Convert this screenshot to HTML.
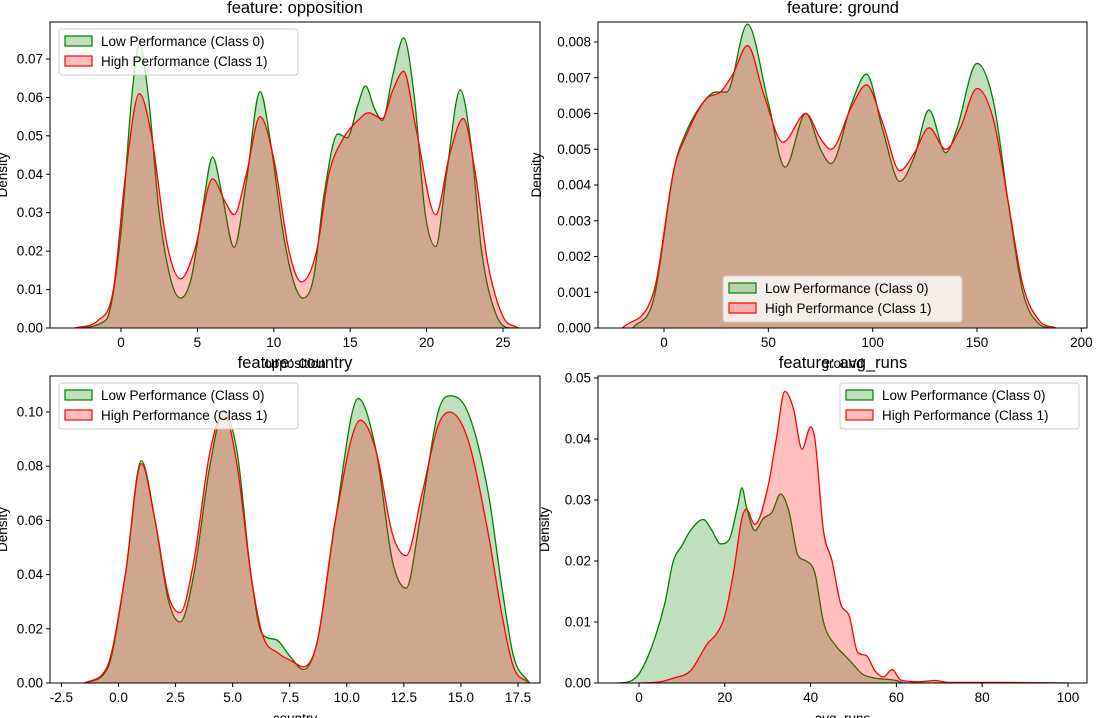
<!DOCTYPE html>
<html><head><meta charset="utf-8"><style>
body{margin:0;background:#fff;}
svg{display:block;font-family:"Liberation Sans","DejaVu Sans",sans-serif;}
</style></head><body>
<svg id="fig" width="1106" height="718" viewBox="0 0 1106 718" xmlns="http://www.w3.org/2000/svg"></svg>
<script>
// ---- data ----
const oppLow=[[-3,0],[-1,0.002],[0,0.025],[0.7,0.06],[1.2,0.074],[1.8,0.06],[2.5,0.03],[3.3,0.012],[3.9,0.0078],[4.6,0.013],[5.3,0.03],[6,0.0445],[6.6,0.035],[7.4,0.021],[8.2,0.038],[9.1,0.0615],[9.8,0.048],[10.6,0.025],[11.3,0.012],[11.9,0.0078],[12.6,0.013],[13.3,0.035],[14.2,0.0505],[14.8,0.0495],[15.5,0.058],[16,0.063],[16.6,0.057],[17.1,0.054],[17.8,0.066],[18.5,0.0755],[19.2,0.06],[19.9,0.03],[20.6,0.0212],[21.3,0.04],[22.2,0.062],[22.9,0.048],[23.6,0.02],[24.5,0.004],[25.5,0],[26,0]];
const oppHigh=[[-3,0],[-1.5,0.002],[-0.5,0.01],[0.3,0.04],[1.2,0.061],[2,0.05],[3,0.022],[3.9,0.0128],[4.8,0.02],[6,0.0388],[6.8,0.033],[7.4,0.0295],[8.2,0.04],[9.1,0.055],[10,0.044],[11,0.02],[11.8,0.012],[12.8,0.02],[13.6,0.04],[14.5,0.049],[15.5,0.054],[16.2,0.056],[17.1,0.0545],[17.8,0.062],[18.5,0.0668],[19.3,0.052],[20.6,0.0295],[21.5,0.045],[22.4,0.0545],[23.2,0.04],[24,0.017],[25,0.003],[26,0]];
const grdLow=[[-15,0],[-5,0.0008],[5,0.0045],[10,0.0054],[20,0.0064],[25,0.0066],[30,0.0066],[40,0.0085],[50,0.0063],[58,0.0045],[68,0.006],[75,0.005],[80,0.0046],[90,0.0063],[97,0.0071],[105,0.0055],[113,0.0041],[120,0.0048],[127,0.0061],[135,0.0049],[140,0.0055],[150,0.0074],[158,0.0063],[165,0.0035],[172,0.001],[180,0.0001],[185,0]];
const grdHigh=[[-20,0],[-5,0.001],[5,0.0045],[10,0.0053],[20,0.0064],[27,0.0066],[33,0.0071],[40,0.0079],[48,0.0065],[57,0.0052],[68,0.006],[75,0.0053],[80,0.005],[90,0.0062],[97,0.0068],[105,0.0057],[113,0.0044],[120,0.0049],[127,0.0056],[135,0.005],[142,0.0056],[150,0.0067],[158,0.0058],[165,0.0035],[172,0.0012],[180,0.0002],[188,0]];
const ctyLow=[[-1.5,0],[-0.5,0.005],[0.3,0.04],[1,0.082],[1.6,0.06],[2.2,0.03],[2.7,0.0225],[3.3,0.04],[4,0.08],[4.6,0.1],[5.2,0.085],[5.8,0.04],[6.3,0.018],[6.9,0.016],[7.5,0.01],[8.1,0.005],[8.7,0.015],[9.5,0.06],[10.5,0.105],[11.3,0.085],[12,0.045],[12.6,0.035],[13.2,0.06],[14,0.1],[14.5,0.106],[15.3,0.1],[16.2,0.07],[16.8,0.035],[17.3,0.01],[18,0]];
const ctyHigh=[[-1.5,0],[-0.5,0.006],[0.3,0.04],[1,0.081],[1.6,0.06],[2.2,0.032],[2.7,0.026],[3.3,0.045],[4,0.085],[4.6,0.1],[5.2,0.08],[5.8,0.04],[6.3,0.018],[7,0.011],[7.6,0.008],[8.1,0.006],[8.7,0.015],[9.5,0.06],[10.6,0.097],[11.3,0.085],[12,0.055],[12.6,0.047],[13.3,0.07],[14,0.095],[14.5,0.1],[15.3,0.09],[16.2,0.055],[16.8,0.025],[17.3,0.006],[18,0]];
const runLow=[[-5,0],[-2,0.0003],[0,0.0015],[3,0.006],[6,0.013],[8,0.02],[10,0.0225],[12,0.025],[15,0.0268],[17,0.025],[19,0.0228],[21,0.0235],[23,0.029],[24,0.032],[25,0.029],[27,0.025],[29,0.027],[31,0.028],[33,0.031],[35,0.028],[37,0.021],[39,0.02],[41,0.018],[43,0.01],[46,0.006],[48,0.0045],[50,0.003],[52,0.0015],[55,0.0008],[58,0.0006],[60,0.0004],[62,0],[100,0]];
const runHigh=[[0,0],[5,0.0002],[8,0.0008],[12,0.002],[16,0.0065],[18,0.008],[20,0.011],[22,0.018],[24,0.027],[25,0.0285],[27,0.026],[30,0.032],[32,0.04],[34,0.0478],[36,0.045],[38,0.0383],[40,0.042],[41,0.04],[43,0.025],[45,0.02],[47,0.013],[49,0.011],[51,0.005],[53,0.0045],[55,0.002],[57,0.001],[59,0.0022],[61,0.0005],[65,0.0002],[69,0.0004],[72,0.0001],[85,0.0001],[100,0]];
const oppXTicks=[0,5,10,15,20,25], oppYTicks=[0,0.01,0.02,0.03,0.04,0.05,0.06,0.07];
const grdXTicks=[0,50,100,150,200], grdYTicks=[0,0.001,0.002,0.003,0.004,0.005,0.006,0.007,0.008];
const ctyXTicks=[-2.5,0,2.5,5,7.5,10,12.5,15,17.5], ctyYTicks=[0,0.02,0.04,0.06,0.08,0.10];
const runXTicks=[0,20,40,60,80,100], runYTicks=[0,0.01,0.02,0.03,0.04,0.05];

const NS="http://www.w3.org/2000/svg", svg=document.getElementById('fig');
function mk(tag,attrs,parent){const e=document.createElementNS(NS,tag);for(const k in attrs)e.setAttribute(k,attrs[k]);(parent||svg).appendChild(e);return e;}
function smooth(pts){
  const n=pts.length,xs=pts.map(p=>p[0]),ys=pts.map(p=>p[1]),d=[],m=[];
  for(let i=0;i<n-1;i++)d.push((ys[i+1]-ys[i])/(xs[i+1]-xs[i]));
  m[0]=d[0];m[n-1]=d[n-2];
  for(let i=1;i<n-1;i++)m[i]=(d[i-1]*d[i]<=0)?0:(d[i-1]+d[i])/2;
  for(let i=0;i<n-1;i++){if(d[i]===0){m[i]=0;m[i+1]=0;continue;}const a=m[i]/d[i],b=m[i+1]/d[i],s=a*a+b*b;if(s>9){const t=3/Math.sqrt(s);m[i]=t*a*d[i];m[i+1]=t*b*d[i];}}
  return {xs,ys,m};
}
function pathD(pts,sx,sy,close){
  const {xs,ys,m}=smooth(pts);
  let d='M'+sx(xs[0]).toFixed(2)+','+sy(ys[0]).toFixed(2);
  for(let i=0;i<xs.length-1;i++){const h=xs[i+1]-xs[i];
    d+='C'+sx(xs[i]+h/3).toFixed(2)+','+sy(ys[i]+m[i]*h/3).toFixed(2)+' '+sx(xs[i+1]-h/3).toFixed(2)+','+sy(ys[i+1]-m[i+1]*h/3).toFixed(2)+' '+sx(xs[i+1]).toFixed(2)+','+sy(ys[i+1]).toFixed(2);}
  if(close)d+='L'+sx(xs[xs.length-1]).toFixed(2)+','+sy(0).toFixed(2)+'L'+sx(xs[0]).toFixed(2)+','+sy(0).toFixed(2)+'Z';
  return d;
}
function fmt(v,dec){return v.toFixed(dec);}
function panel(o){
  const g=mk('g',{});
  
  
  const sx=v=>o.px0+(v-o.x0)*(o.px1-o.px0)/(o.x1-o.x0);
  const sy=v=>o.py0-(v)*(o.py0-o.py1)/o.ymaxV;
  const clipId='c'+o.name;
  const cp=mk('clipPath',{id:clipId},g);mk('rect',{x:o.L,y:o.T,width:o.R-o.L,height:o.B-o.T},cp);
  const pg=mk('g',{'clip-path':'url(#'+clipId+')'},g);
  const series=[[o.low,'green','#008000','low'],[o.high,'red','#ff0000','high']];
  for(const [pts,c,lc,nm] of series){
    const f=mk('path',{d:pathD(pts,sx,sy,true),fill:c,'fill-opacity':0.25,stroke:'none'},pg);
    
    
    const l=mk('path',{d:pathD(pts,sx,sy,false),fill:'none',stroke:lc,'stroke-width':1.3},pg);
    
    
  }
  const fr=mk('rect',{x:o.L,y:o.T,width:o.R-o.L,height:o.B-o.T,fill:'none',stroke:'#000','stroke-width':1},g);
  
  
  for(const t of o.xt){const x=sx(t);
    mk('line',{x1:x,x2:x,y1:o.B,y2:o.B+4,stroke:'#000'},g);
    const tx=mk('text',{x:x,y:o.B+19,'font-size':13.5,'text-anchor':'middle'},g);tx.textContent=(o.xdec!=null?fmt(t,o.xdec):String(t));
    
    }
  for(const t of o.yt){const y=sy(t);
    mk('line',{x1:o.L-4,x2:o.L,y1:y,y2:y,stroke:'#000'},g);
    const tx=mk('text',{x:o.L-7,y:y+4.5,'font-size':13.5,'text-anchor':'end'},g);tx.textContent=fmt(t,o.ydec);
    
    }
  const xl=mk('text',{x:(o.L+o.R)/2,y:o.B+40,'font-size':13.5,'text-anchor':'middle'},g);xl.textContent=o.xlabel;
  
  
  const yx=o.ylx,yy=(o.T+o.B)/2;
  const yl=mk('text',{x:yx,y:yy,'font-size':13.5,'text-anchor':'middle',transform:'rotate(-90 '+yx+' '+yy+')'},g);yl.textContent='Density';
  
  
  const lg=mk('g',{},g);
  
  
  mk('rect',{x:o.lx,y:o.ly,width:239,height:46,rx:3,fill:'#fff','fill-opacity':0.8,stroke:'#ccc'},lg);
  const ents=[['Low Performance (Class 0)','green','#008000'],['High Performance (Class 1)','red','#ff0000']];
  ents.forEach((e,i)=>{const yy=o.ly+7+i*20;
    const le=mk('g',{},lg);
    
    
    mk('rect',{x:o.lx+6,y:yy,width:27,height:10,fill:e[1],'fill-opacity':0.25,stroke:e[2],'stroke-width':1.2},le);
    const t=mk('text',{x:o.lx+42,y:yy+10,'font-size':13.5},le);t.textContent=e[0];});
  return g;
}
function title(x,y,s){const t=mk('text',{x:x,y:y,'font-size':16.5,'text-anchor':'middle'});t.textContent=s;
  
  }
panel({name:'opposition',L:50,R:540,T:22,B:328,px0:121,px1:503,x0:0,x1:25,py0:328,py1:59,ymaxV:0.07,low:oppLow,high:oppHigh,xt:oppXTicks,yt:oppYTicks,ydec:2,xlabel:'opposition',ylx:7,lx:59,ly:29});
panel({name:'ground',L:598,R:1087,T:22,B:328,px0:664,px1:977,x0:0,x1:150,py0:328,py1:42,ymaxV:0.008,low:grdLow,high:grdHigh,xt:grdXTicks,yt:grdYTicks,ydec:3,xlabel:'ground',ylx:541,lx:723,ly:276});
panel({name:'country',L:50,R:540,T:376,B:683,px0:118.5,px1:518,x0:0,x1:17.5,py0:683,py1:412,ymaxV:0.10,low:ctyLow,high:ctyHigh,xt:ctyXTicks,yt:ctyYTicks,ydec:2,xdec:1,xlabel:'country',ylx:7,lx:59,ly:383});
panel({name:'avg-runs',L:598,R:1087,T:376,B:683,px0:639,px1:1068,x0:0,x1:100,py0:683,py1:378,ymaxV:0.05,low:runLow,high:runHigh,xt:runXTicks,yt:runYTicks,ydec:2,xlabel:'avg_runs',ylx:549,lx:840,ly:383});
title(295,13,'feature: opposition');
title(843,13,'feature: ground');
title(295,368,'feature: country');
title(843,368,'feature: avg_runs');
</script>
</body></html>
